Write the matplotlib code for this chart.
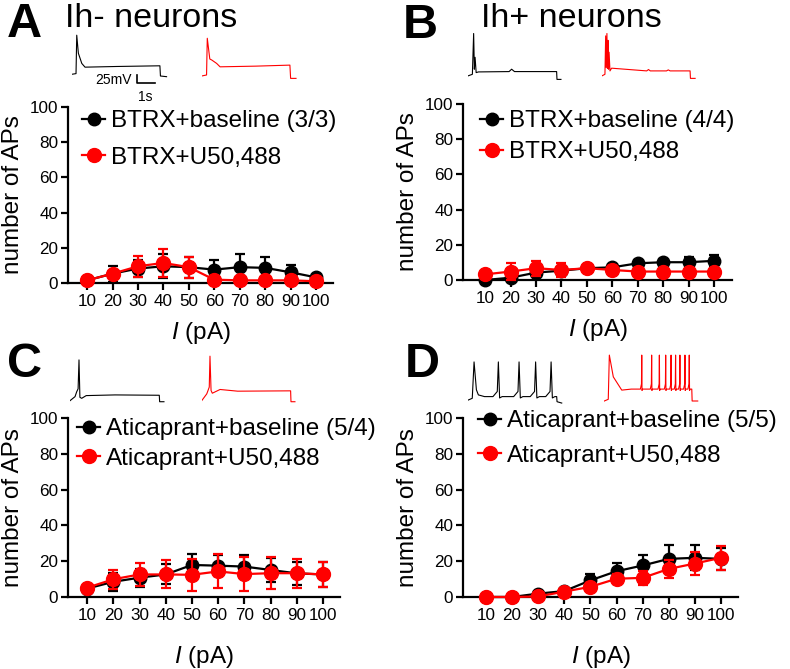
import matplotlib
matplotlib.use("Agg")
import matplotlib.pyplot as plt

plt.rcParams['font.family'] = ['Liberation Sans', 'DejaVu Sans']
plt.rcParams['mathtext.fontset'] = 'custom'
plt.rcParams['mathtext.it'] = 'Liberation Sans:italic'
plt.rcParams['mathtext.rm'] = 'Liberation Sans'

W, H = 790, 669

# ---- data: number of APs vs injected current (mean, sem) ----
currents = [10, 20, 30, 40, 50, 60, 70, 80, 90, 100]

a_base_mean = [1.5, 5.3, 8.2, 9.5, 9.0, 7.6, 9.0, 8.6, 6.1, 3.2]
a_base_sem = [0.5, 4.6, 5.0, 6.7, 6.0, 5.7, 7.2, 6.3, 4.4, 1.5]
a_u50_mean = [1.5, 5.3, 9.5, 11.4, 9.0, 1.9, 1.5, 1.5, 1.5, 1.0]
a_u50_sem = [0.5, 1.5, 6.0, 7.8, 5.9, 0.8, 0.5, 0.5, 0.5, 0.5]

b_base_mean = [0.0, 1.3, 4.2, 5.3, 6.7, 7.2, 9.5, 10.1, 10.1, 10.9]
b_base_sem = [0.5, 2.5, 2.0, 1.5, 1.0, 1.0, 1.9, 2.0, 3.2, 3.4]
b_u50_mean = [3.2, 4.8, 6.7, 5.7, 6.7, 5.7, 4.8, 4.8, 4.8, 4.8]
b_u50_sem = [1.0, 5.0, 4.2, 4.2, 1.5, 1.0, 0.8, 0.8, 0.8, 0.8]

c_base_mean = [4.7, 8.5, 10.8, 12.6, 17.9, 17.5, 17.0, 15.1, 13.2, 12.6]
c_base_sem = [1.5, 5.0, 5.0, 5.6, 6.2, 6.0, 6.4, 6.9, 6.5, 6.8]
c_u50_mean = [5.2, 9.9, 12.6, 12.6, 12.4, 14.3, 12.8, 13.3, 13.3, 12.6]
c_u50_sem = [1.5, 5.3, 6.4, 7.8, 9.0, 9.5, 9.3, 9.0, 8.0, 7.2]

d_base_mean = [0.0, 0.0, 1.9, 3.3, 9.3, 14.4, 17.6, 21.3, 21.9, 21.3]
d_base_sem = [0.2, 0.2, 0.5, 0.8, 3.3, 4.7, 6.1, 7.6, 7.0, 6.0]
d_u50_mean = [0.0, 0.0, 0.3, 3.0, 5.7, 10.2, 10.7, 15.7, 18.7, 21.9]
d_u50_sem = [0.2, 0.2, 0.3, 0.8, 2.3, 2.8, 4.0, 5.1, 6.5, 6.7]

panel_letters = ['A', 'B', 'C', 'D']
panel_titles = ['Ih- neurons', 'Ih+ neurons', '', '']
base_labels = ['BTRX+baseline (3/3)', 'BTRX+baseline (4/4)',
               'Aticaprant+baseline (5/4)', 'Aticaprant+baseline (5/5)']
u50_labels = ['BTRX+U50,488', 'BTRX+U50,488',
              'Aticaprant+U50,488', 'Aticaprant+U50,488']
yticks = [0, 20, 40, 60, 80, 100]

# ---- example voltage traces (time in s, voltage in mV rel. to rest) ----
a_base_t = [0, 0.24, 0.28, 0.37, 0.56, 0.74, 2.5, 4.9, 4.93, 5.27]
a_base_v = [0, 2, 115, 62, 32, 21, 23, 25, -5, -7]
a_u50_t = [0, 0.27, 0.31, 0.45, 0.56, 0.83, 1.02, 3.0, 4.9, 4.94, 5.24]
a_u50_v = [0, 3, 111, 50, 47, 37, 27, 29, 32, -7, -7]

b_base_t = [0, 0.26, 0.33, 0.37, 0.41, 0.47, 0.6, 2.3, 2.44, 2.6, 4.94, 4.96, 5.18]
b_base_v = [0, 5, 125, 20, 55, 10, 12, 13, 20, 13, 13, -10, -10]
b_u50_t = [0, 0.18, 0.22, 0.25, 0.29, 0.32, 0.35, 0.38, 0.41, 0.46, 0.55,
           2.5, 2.6, 2.7, 3.6, 3.7, 3.8, 4.91, 4.93, 5.19]
b_u50_v = [0, 5, 118, 25, 125, 22, 105, 20, 70, 15, 23,
           15, 19, 15, 15, 18, 15, 15, -7, -7]

c_base_t = [0, 0.28, 0.37, 0.45, 0.5, 0.55, 0.65, 0.9, 2.5, 4.96, 4.98, 5.22]
c_base_v = [0, 12, 26, 35, 120, 10, 7, 15, 17, 16, -3, -3]
c_u50_t = [0, 0.28, 0.33, 0.42, 0.46, 0.52, 0.59, 1.02, 2.0, 4.94, 4.96, 5.18]
c_u50_v = [0, 20, 27, 40, 131, 30, 22, 33, 28, 29, -3, -3]

d_base_t = [0, 0.22, 0.32, 0.45, 0.56, 0.9]
d_base_v = [0, 5, 112, 30, 15, 10]
d_base_spikes = [1.67, 2.82, 3.74, 4.6]
d_base_end_t = [4.91, 4.93, 5.19]
d_base_end_v = [10, -5, -9]

d_u50_t = [0, 0.22, 0.28, 0.5, 0.97, 1.5]
d_u50_v = [0, 5, 135, 71, 32, 35]
d_u50_spikes = [2.08, 2.63, 3.06, 3.41, 3.71, 3.96, 4.2, 4.48, 4.72]
d_u50_end_t = [4.86, 4.88, 5.19]
d_u50_end_v = [35, 0, 0]


def with_spikes(t0, v0, spikes, t_end, v_end, plateau, peak, pre, post):
    t, v = list(t0), list(v0)
    for s in spikes:
        t += [s - pre * 5, s - pre, s, s + post, s + post * 3]
        v += [plateau, plateau + 15, peak, plateau - 4, plateau]
    return t + list(t_end), v + list(v_end)


PX_PER_S = 18.0
PX_PER_MV = 0.34
V_LO, V_HI, T_SPAN = 60, 145, 6.0


def trace_axes(fig, x_px, y_px):
    ax = fig.add_axes([x_px / W, 1 - (y_px + V_LO * PX_PER_MV) / H,
                       T_SPAN * PX_PER_S / W, (V_LO + V_HI) * PX_PER_MV / H])
    ax.set_xlim(0, T_SPAN)
    ax.set_ylim(-V_LO, V_HI)
    ax.axis('off')
    return ax


fig = plt.figure(figsize=(W / 100, H / 100), dpi=100)

# axes boxes in pixels: left, right, top, bottom
boxes = [(68, 333, 107, 283), (463, 732, 104, 280),
         (68, 340, 418, 597), (463, 738, 418, 597)]
xlims = [(2.5, 106.7), (1.3, 107), (2.7, 106.5), (1.2, 106.5)]
means = [(a_base_mean, a_u50_mean), (b_base_mean, b_u50_mean),
         (c_base_mean, c_u50_mean), (d_base_mean, d_u50_mean)]
sems = [(a_base_sem, a_u50_sem), (b_base_sem, b_u50_sem),
        (c_base_sem, c_u50_sem), (d_base_sem, d_u50_sem)]
leg_pos = [(82, 110), (480, 110), (77, 418), (478, 410)]
leg_space = [0.6, 0.38, 0.31, 0.52]
xlab_pad = [8, 8, 15, 15]
letter_pos = [(7, 37), (403, 38), (7, 377), (405, 377)]
title_pos = [(65, 27), (481, 27)]

RED = '#ff0000'

for i in range(4):
    l, r, t, b = boxes[i]
    ax = fig.add_axes([l / W, 1 - b / H, (r - l) / W, (b - t) / H])
    bm, um = means[i]
    bs, us = sems[i]
    ax.errorbar(currents, bm, yerr=bs, fmt='none', ecolor='black',
                elinewidth=1.6, capsize=3.5, capthick=1.6, clip_on=False, zorder=2)
    hb, = ax.plot(currents, bm, '-o', color='black', lw=1.6, ms=9,
                  clip_on=False, zorder=3, label=base_labels[i])
    ax.errorbar(currents, um, yerr=us, fmt='none', ecolor=RED,
                elinewidth=1.6, capsize=3.5, capthick=1.6, clip_on=False, zorder=4)
    hu, = ax.plot(currents, um, '-o', color=RED, lw=1.6, ms=10,
                  clip_on=False, zorder=5, label=u50_labels[i])

    ax.set_xlim(*xlims[i])
    ax.set_ylim(0, 100)
    ax.set_xticks(currents)
    ax.set_yticks(yticks)
    ax.tick_params(labelsize=12.3, width=1.6, length=5, pad=2)
    ax.tick_params(axis='x', pad=3)
    for side in ['top', 'right']:
        ax.spines[side].set_visible(False)
    for side in ['left', 'bottom']:
        ax.spines[side].set_linewidth(1.6)
    ax.set_ylabel('number of APs', fontsize=17.5, labelpad=4)
    ax.set_xlabel(r'$I$ (pA)', fontsize=17.5, labelpad=xlab_pad[i])

    lx, ly = leg_pos[i]
    ax.legend(handles=[hb, hu], loc='upper left', bbox_to_anchor=(lx / W, 1 - ly / H),
              bbox_transform=fig.transFigure, frameon=False, fontsize=17.5,
              handlelength=0.95, handletextpad=0.25, labelspacing=leg_space[i],
              borderpad=0, borderaxespad=0)

    px, py = letter_pos[i]
    fig.text(px / W, 1 - py / H, panel_letters[i], fontsize=35,
             fontweight='bold', va='baseline', ha='left')
    if panel_titles[i]:
        tx, ty = title_pos[i]
        fig.text(tx / W, 1 - ty / H, panel_titles[i], fontsize=24.5,
                 va='baseline', ha='left')

# traces
TR_LW = 0.8
tr = trace_axes(fig, 71.7, 74.3)
tr.plot(a_base_t, a_base_v, color='black', lw=TR_LW)
# scale bar: 25 mV, 1 s
tr.plot([3.63, 3.63, 4.63], [-0.6, -25.6, -25.6], color='black', lw=1.2, clip_on=False)
tr.text(3.35, -18, '25mV', fontsize=10, ha='right', va='center')
tr.text(4.1, -46, '1s', fontsize=10, ha='center', va='top')
trace_axes(fig, 201.7, 76).plot(a_u50_t, a_u50_v, color=RED, lw=TR_LW)

trace_axes(fig, 467.7, 76).plot(b_base_t, b_base_v, color='black', lw=TR_LW)
trace_axes(fig, 601.7, 76).plot(b_u50_t, b_u50_v, color=RED, lw=TR_LW)

trace_axes(fig, 70, 400.7).plot(c_base_t, c_base_v, color='black', lw=TR_LW)
trace_axes(fig, 201.7, 400.7).plot(c_u50_t, c_u50_v, color=RED, lw=TR_LW)

t, v = with_spikes(d_base_t, d_base_v, d_base_spikes, d_base_end_t, d_base_end_v,
                   10, 112, 0.06, 0.07)
trace_axes(fig, 468.3, 400).plot(t, v, color='black', lw=TR_LW)
t, v = with_spikes(d_u50_t, d_u50_v, d_u50_spikes, d_u50_end_t, d_u50_end_v,
                   35, 135, 0.015, 0.015)
trace_axes(fig, 604.3, 401).plot(t, v, color=RED, lw=TR_LW)

fig.savefig('out.png', dpi=100)
